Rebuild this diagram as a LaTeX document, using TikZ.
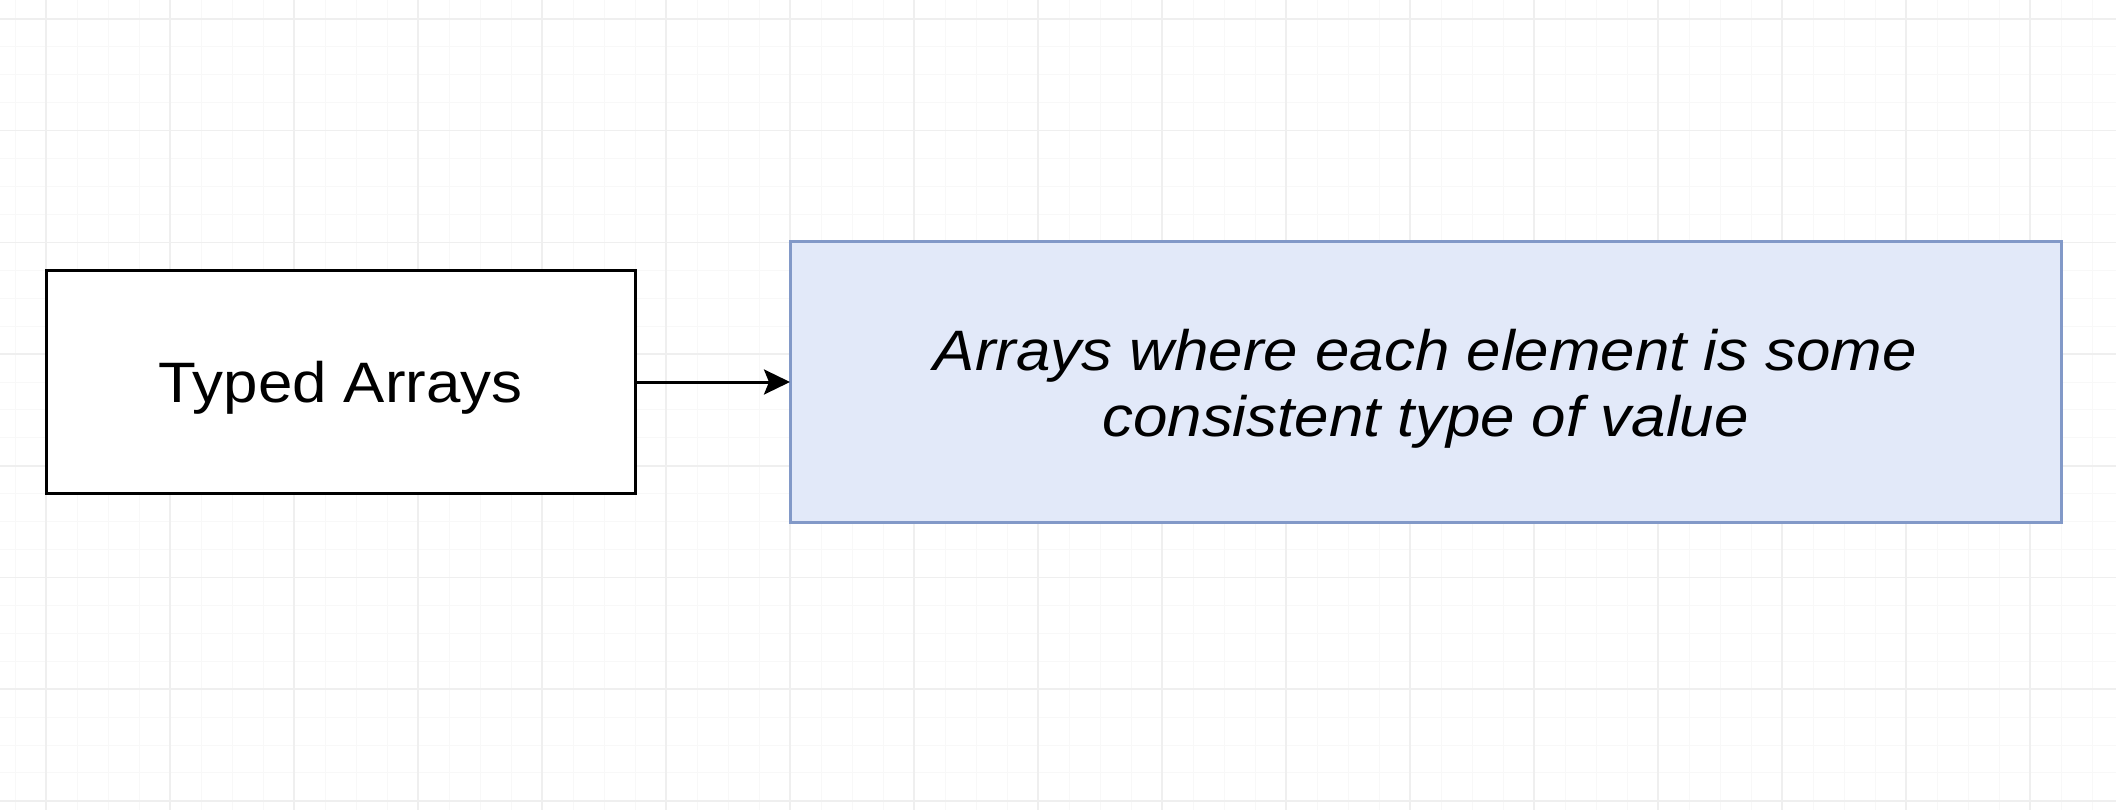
\documentclass[tikz,border=0pt]{standalone}
\usepackage{fontspec}
\newfontfamily\boxfont[FakeStretch=1.085]{Liberation Sans}
\usetikzlibrary{positioning, arrows.meta}
\definecolor{gridmajor}{HTML}{EFEFEF}
\definecolor{gridminor}{HTML}{F8F8F8}
\definecolor{descfill}{HTML}{E2E9F9}
\definecolor{descline}{HTML}{8299C8}
\tikzset{every node/.style={font=\boxfont\fontsize{57}{66}\selectfont,outer sep=0pt},
         typebox/.style={draw,line width=3pt,fill=white,minimum width=589pt,minimum height=223pt,text height=41pt,text depth=0pt},
         descbox/.style={draw=descline,line width=3pt,fill=descfill,minimum width=1271pt,minimum height=280pt,
                         font=\boxfont\itshape\fontsize{57}{66}\selectfont,text height=42pt,text depth=66pt},
         >={Stealth[length=26pt,width=25pt,inset=5pt]}}
\begin{document}
\begin{tikzpicture}[x=1pt,y=-1pt]
        \useasboundingbox(0,0)rectangle(2116,810);
        \fill[white](0,0)rectangle(2116,810);
        \draw[gridminor,line width=1pt,xstep=31pt,ystep=27.925pt,shift={(46,19)}](-46,-19)grid(2070,791);
        \draw[gridmajor,line width=1.5pt,xstep=124pt,ystep=111.7pt,shift={(46,19)}](-46,-19)grid(2070,791);

        \node[typebox](typed)at(340.5,382){Typed Arrays};
        \node[descbox,right=155pt of typed](desc){\begin{tabular}[t]{@{}c@{}}Arrays where each element is some\\consistent type of value\end{tabular}};
        \draw[->,line width=3pt](typed)--(desc);
\end{tikzpicture}
\end{document}
